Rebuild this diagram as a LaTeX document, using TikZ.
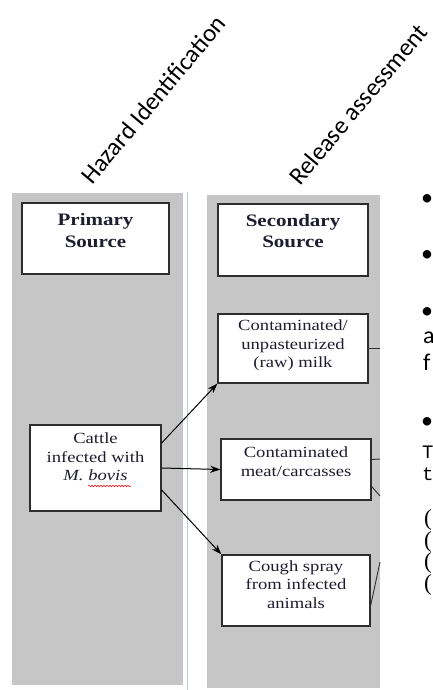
\documentclass[tikz,border=0pt]{standalone}
\usepackage{fontspec}
\setmainfont{Liberation Serif}
\newfontfamily\hdfont{Carlito}
\newfontfamily\fragmono{Liberation Mono}
\newfontfamily\boxfont[FakeStretch=1.2]{Liberation Serif}
\usetikzlibrary{arrows.meta,decorations.pathmorphing}
\definecolor{panelgray}{HTML}{C6C6C6}
\definecolor{edgeblue}{HTML}{BCD0D8}
\definecolor{boxline}{HTML}{2E2E2E}
\definecolor{textdark}{HTML}{1E1E30}
\begin{document}
\begin{tikzpicture}[x=1pt,y=-1pt,
  panel/.style={fill=panelgray,draw=none},
  srcbox/.style={draw=boxline,line width=1.3pt,fill=white,inner sep=0pt},
  boxtext/.style={font=\boxfont\fontsize{15.5}{18.5}\selectfont,align=center,text=textdark,inner sep=0pt},
  headbox/.style={font=\boxfont\bfseries\fontsize{17.5}{21.5}\selectfont,align=center,text=textdark,inner sep=0pt},
  headtext/.style={font=\hdfont\fontsize{25}{30}\selectfont,inner sep=0pt,rotate=50,anchor=base west},
  frag/.style={font=\hdfont\fontsize{24}{28}\selectfont,inner sep=0pt,anchor=base west},
  fragm/.style={font=\fragmono\fontsize{19}{22}\selectfont,inner sep=0pt,anchor=base west},
  frags/.style={font=\fontsize{23}{26}\selectfont,inner sep=0pt,anchor=base west},
  arr/.style={-{Stealth[length=10pt,width=7pt]},line width=1pt,draw=black},
  link/.style={line width=0.9pt,draw=boxline}]
\useasboundingbox[fill=white] (0,0) rectangle (433,690);

% panels
\fill[panelgray] (12,193) rectangle (183,685);
\fill[panelgray] (207,195) rectangle (380,688);
\draw[edgeblue,line width=1.2pt] (187.5,192) -- (187.5,690);

% rotated headings
\node[headtext] (haz) at (92,186) {Hazard Identification};
\node[headtext] (rel) at (300,187) {Release assessment};

% boxes
\node[srcbox,minimum width=147pt,minimum height=71pt] (prim) at (95.5,238.5) {};
\node[headbox] (primt) at ([yshift=8pt]prim.center) {Primary\\Source};
\node[srcbox,minimum width=150pt,minimum height=72pt] (sec) at (293,240) {};
\node[headbox] (sect) at ([yshift=9pt]sec.center) {Secondary\\Source};

\node[srcbox,minimum width=150pt,minimum height=69pt] (milk) at (293,348.5) {};
\node[boxtext] (milkt) at ([yshift=3pt]milk.center) {Contaminated/\\unpasteurized\\(raw) milk};

\node[srcbox,minimum width=131pt,minimum height=86pt] (cattle) at (95.5,468) {};
\node[boxtext] (cattlet) at ([yshift=11pt]cattle.center) {Cattle\\infected with\\\textit{M. bovis}};

\node[srcbox,minimum width=150pt,minimum height=61pt] (meat) at (296,469.5) {};
\node[boxtext] (meatt) at ([yshift=8pt]meat.center) {Contaminated\\meat/carcasses};

\node[srcbox,minimum width=148pt,minimum height=71pt] (cough) at (296,590.5) {};
\node[boxtext] (cought) at ([yshift=6pt]cough.center) {Cough spray\\from infected\\animals};

% spell-check underline
\draw[red,line width=0.5pt,decorate,decoration={snake,amplitude=0.8pt,segment length=3pt}] (88,486) -- (131,486);

% arrows
\draw[arr] ([yshift=25pt]cattle.east) -- (milk.south west);
\draw[arr] (cattle.east) -- (meat.west);
\draw[arr] ([yshift=-22pt]cattle.east) -- (cough.north west);

% links leaving the secondary panel
\coordinate (m1) at (380,348.5);
\coordinate (e1) at (380,459);
\coordinate (e2) at (380,496);
\coordinate (c1) at (380,562);
\draw[link] (milk.east) -- (m1);
\draw[link] ([yshift=10pt]meat.east) -- (e1);
\draw[link] ([yshift=-17pt]meat.east) -- (e2);
\draw[link] ([yshift=-15pt]cough.east) -- (c1);

% cropped text at right edge
\node[frag] (b1) at (421,205) {•};
\node[frag] (b2) at (421,261) {•};
\node[frag] (b3) at (421,318) {•};
\node[frag] (fa) at (423,343) {a};
\node[frag] (ff) at (423,370) {f};
\node[frag] (b4) at (421,428) {•};
\node[fragm] (ft) at (422,458) {T};
\node[fragm] (ft2) at (422,480) {t};
\node[frags] (p1) at (424,525) {(};
\node[frags] (p2) at (424,547) {(};
\node[frags] (p3) at (424,568) {(};
\node[frags] (p4) at (424,590) {(};
\end{tikzpicture}
\end{document}
